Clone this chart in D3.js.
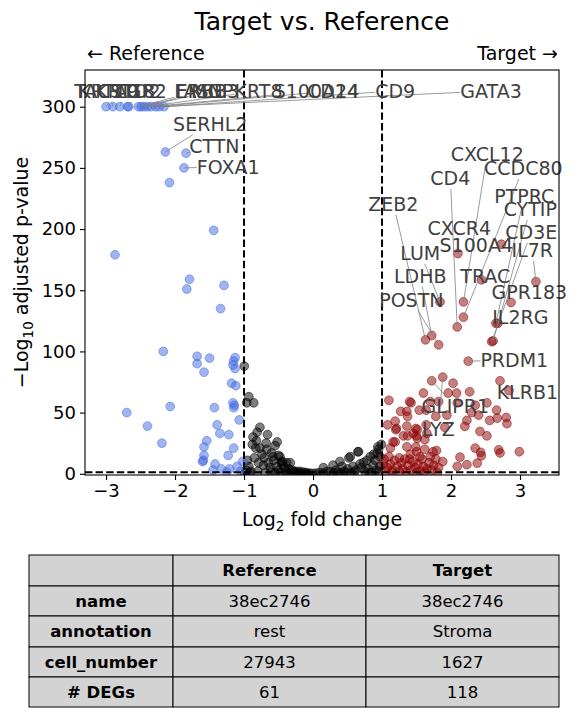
<!DOCTYPE html>
<html>
<head>
<meta charset="utf-8">
<script src="https://cdn.jsdelivr.net/npm/d3@7"></script>
<style>
body { margin: 0; background: #fff; }
text { font-family: "DejaVu Sans", sans-serif; }
</style>
</head>
<body>
<div id="chart"></div>
<script>
// genes higher in the reference group: [log2 fold change, -log10 adj p]
var refGenes = [
  [-2.67, 300], [-2.08, 238], [-1.44, 199], [-2.87, 179], [-1.79, 159], [-1.83, 151],
  [-1.29, 154], [-1.34, 135], [-2.17, 100], [-1.68, 96], [-1.50, 94.5], [-1.68, 90],
  [-1.58, 83], [-1.13, 95], [-1.15, 92], [-1.16, 89], [-1.13, 86], [-1.18, 74],
  [-1.12, 72], [-1.16, 58], [-1.14, 56], [-1.15, 54], [-1.07, 44], [-1.43, 54],
  [-2.07, 55], [-2.70, 50], [-2.40, 39], [-2.19, 25], [-1.39, 40], [-1.35, 33],
  [-1.22, 32], [-1.54, 27], [-1.58, 22], [-1.15, 21], [-1.58, 15], [-1.23, 15],
  [-1.59, 11], [-1.60, 10], [-1.42, 8], [-1.33, 4], [-1.21, 4], [-1.45, 3],
  [-1.05, 2], [-1.10, 6], [-1.25, 1.5], [-1.02, 10]
];

// genes below the fold change cut
var nsGenes = [
  [-0.996, 88], [-0.93, 63], [-0.96, 58], [-0.86, 58], [-0.77, 38], [-0.81, 34],
  [-0.87, 30], [-0.66, 32], [-0.52, 26], [-0.55, 23], [-0.83, 21], [-0.77, 21],
  [-0.67, 20], [-0.48, 14], [-0.71, 13], [-0.79, 9], [-0.93, 6], [-0.38, 9],
  [-0.62, 5], [-0.97, 3], [-0.90, 2], [-0.74, 16], [-0.60, 17], [-0.57, 11],
  [-0.45, 8], [-0.42, 5], [-0.35, 4], [-0.30, 3], [-0.25, 2], [-0.20, 2],
  [-0.15, 1.5], [-0.10, 1], [-0.05, 0.5], [0, 0.3], [-0.85, 13], [-0.72, 7],
  [-0.65, 9], [-0.53, 6], [-0.50, 3], [-0.40, 2], [-0.33, 1], [-0.28, 1.5],
  [-0.22, 0.8], [-0.18, 0.5], [-0.12, 0.4], [-0.08, 0.2], [-0.88, 24], [-0.82, 27],
  [-0.95, 11], [-0.68, 25], [-0.58, 14], [-0.46, 10], [-0.99, 0.5], [-0.92, 1],
  [-0.80, 2], [-0.69, 1], [-0.61, 1.5], [-0.55, 0.8], [-0.47, 1], [-0.38, 0.6],
  [-0.50, 15], [-0.33, 9], [-0.44, 10],
  [0.65, 18], [0.52, 13], [0.94, 22], [0.99, 24], [0.78, 11], [0.93, 17],
  [0.95, 20], [0.83, 14], [0.90, 11], [0.66, 18], [0.54, 14], [0.39, 10],
  [0.29, 7], [0.15, 5], [0.42, 6], [0.58, 6], [0.73, 9], [0.10, 1],
  [0.20, 2], [0.25, 1.5], [0.33, 3], [0.45, 2], [0.50, 4], [0.62, 3],
  [0.70, 5], [0.80, 4], [0.87, 7], [0.92, 3], [0.97, 6], [0.05, 0.5],
  [0.35, 1], [0.48, 1], [0.60, 1.5], [0.75, 2], [0.85, 1], [0.95, 1.5],
  [0.68, 8], [0.88, 16], [0.97, 14], [0.30, 0.5], [0.15, 0.3], [0.40, 0.8],
  [0.55, 0.7], [0.82, 0.9]
];

// genes higher in the target group
var tgtGenes = [
  [2.71, 76], [2.03, 74], [1.10, 60], [1.42, 58], [1.40, 59], [1.60, 66],
  [1.96, 66], [2.08, 66], [2.27, 67], [1.36, 51], [1.37, 47], [1.19, 43],
  [1.08, 40], [1.21, 37], [1.54, 52], [1.64, 52], [1.78, 47], [1.94, 48],
  [1.82, 59], [2.09, 58], [2.35, 56], [2.30, 50], [2.40, 48], [2.52, 58],
  [2.66, 52], [2.67, 45.5], [2.80, 46], [2.81, 41], [2.56, 43.6], [2.23, 43.6],
  [2.20, 38.7], [1.91, 38], [1.36, 39], [1.37, 31], [1.31, 31], [1.49, 37],
  [1.50, 31], [1.64, 40], [1.65, 33], [2.42, 34.6], [2.52, 31], [1.16, 26],
  [1.36, 22], [1.49, 22], [1.79, 19], [2.35, 21], [2.43, 17.5], [2.44, 14.7],
  [2.69, 19.6], [2.71, 17], [2.99, 18], [2.13, 13.6], [2.23, 7.4], [2.09, 6],
  [2.38, 8.7], [1.70, 59], [1.27, 51], [1.20, 36], [1.51, 36], [1.45, 33],
  [1.62, 28], [1.51, 29], [1.19, 26], [1.12, 21], [1.41, 16], [1.50, 18],
  [1.62, 20], [1.74, 18],
  [1.05, 2], [1.08, 5], [1.12, 8], [1.15, 3], [1.18, 11], [1.22, 6],
  [1.25, 2], [1.28, 9], [1.30, 4], [1.33, 12], [1.38, 7], [1.42, 3],
  [1.45, 10], [1.48, 5], [1.52, 8], [1.55, 2], [1.58, 12], [1.60, 6],
  [1.65, 4], [1.68, 9], [1.72, 3], [1.75, 7], [1.78, 12], [1.82, 5],
  [1.88, 10], [1.03, 12], [1.10, 14], [1.25, 13], [1.40, 12], [1.55, 14],
  [1.70, 14], [1.02, 8], [1.15, 1], [1.35, 1.5], [1.50, 1], [1.62, 1.5], [1.80, 1]
];

// labelled genes, their values and where the label text sits (data units)
var labelGenes = ["TACSTD2", "KRT19", "KRT18", "AGR2", "FASN", "ERBB3", "MGP", "KRT8",
  "S100A14", "CD24", "CD9", "GATA3", "SERHL2", "CTTN", "FOXA1",
  "CXCL12", "CCDC80", "CD4", "PTPRC", "ZEB2", "CYTIP", "CXCR4", "CD3E", "S100A4", "IL7R",
  "LUM", "TRAC", "LDHB", "GPR183", "POSTN", "IL2RG", "PRDM1", "KLRB1", "GLIPR1", "LYZ"];
var labelLfc = [-3.0, -2.9, -2.8, -2.69, -2.53, -2.49, -2.45, -2.40,
  -2.35, -2.28, -2.16, -2.23, -2.14, -1.84, -1.87,
  2.18, 2.18, 2.09, 2.65, 1.63, 2.61, 2.10, 2.59, 2.73, 3.23,
  1.84, 2.44, 1.72, 2.87, 1.82, 2.68, 2.25, 2.84, 1.72, 1.88];
var labelNlp = [300, 300, 300, 300, 300, 300, 300, 300,
  300, 300, 300, 300, 263, 262, 250,
  140.5, 128, 120, 123, 109.5, 108.6, 180, 108, 187.6, 157,
  140.5, 158.5, 113, 140, 105.4, 123, 92, 68, 76, 79];
var labelTextX = [-2.836, -2.967, -2.72, -2.50, -1.66, -1.53, -1.46, -0.79,
  0.05, 0.29, 1.19, 2.58, -1.49, -1.43, -1.23,
  2.526, 3.048, 1.99, 3.062, 1.163, 3.149, 2.12, 3.164, 2.366, 3.178,
  1.555, 2.497, 1.555, 3.135, 1.425, 3.004, 2.917, 3.106, 2.062, 1.816];
var labelTextY = [312.8, 312.8, 312.8, 312.8, 312.8, 312.8, 312.8, 312.8,
  312.8, 312.8, 312.8, 312.8, 285.9, 267.9, 250.7,
  261.4, 249.9, 241.7, 227.0, 220.5, 216.4, 200.9, 197.6, 187.0, 183.0,
  180.5, 161.7, 161.7, 148.7, 142.2, 128.3, 93.1, 66.9, 55.4, 36.6];

var xTicks = [-3, -2, -1, 0, 1, 2, 3];
var yTicks = [0, 50, 100, 150, 200, 250, 300];
var lfcCut = 1, pCut = -Math.log10(0.05);

// info table
var tableCols = ["", "Reference", "Target"];
var tableRows = ["name", "annotation", "cell_number", "# DEGs"];
var refInfo = ["38ec2746", "rest", "27943", "61"];
var tgtInfo = ["38ec2746", "Stroma", "1627", "118"];

var width = 578, height = 717,
    pLeft = 85, pRight = 559, pTop = 70, pBottom = 475;

var svg = d3.select("#chart").append("svg")
    .attr("width", width)
    .attr("height", height);

var x = d3.scaleLinear().domain([-3.305, 3.565]).range([pLeft, pRight]),
    y = d3.scaleLinear().domain([-1, 330]).range([pBottom, pTop]);

svg.append("clipPath").attr("id", "clip")
    .append("rect")
    .attr("x", pLeft).attr("y", pTop)
    .attr("width", pRight - pLeft).attr("height", pBottom - pTop);

var plot = svg.append("g").attr("clip-path", "url(#clip)");

function colorOf(lfc) {
    if (lfc <= -lfcCut) return "royalblue";
    if (lfc >= lfcCut) return "darkred";
    return "black";
}

function drawPoints(data, color) {
    plot.append("g").selectAll("circle")
        .data(data)
        .enter().append("circle")
        .attr("cx", function(d) { return x(d[0]); })
        .attr("cy", function(d) { return y(d[1]); })
        .attr("r", 4.4)
        .style("fill", color)
        .style("fill-opacity", 0.5)
        .style("stroke", color)
        .style("stroke-opacity", 0.5)
        .style("stroke-width", 1);
}

drawPoints(nsGenes, "black");
drawPoints(refGenes, "royalblue");
drawPoints(tgtGenes, "darkred");

var labelled = labelGenes.map(function(g, i) {
    return {gene: g, lfc: labelLfc[i], nlp: labelNlp[i], tx: labelTextX[i], ty: labelTextY[i]};
});

plot.append("g").selectAll("circle")
    .data(labelled)
    .enter().append("circle")
    .attr("cx", function(d) { return x(d.lfc); })
    .attr("cy", function(d) { return y(d.nlp); })
    .attr("r", 4.4)
    .style("fill", function(d) { return colorOf(d.lfc); })
    .style("fill-opacity", 0.5)
    .style("stroke", function(d) { return colorOf(d.lfc); })
    .style("stroke-opacity", 0.5)
    .style("stroke-width", 1);

// threshold lines
var dash = "7.4,3.2";
[-lfcCut, lfcCut].forEach(function(v) {
    plot.append("line")
        .attr("x1", x(v)).attr("x2", x(v))
        .attr("y1", pTop).attr("y2", pBottom)
        .style("stroke", "black").style("stroke-width", 2)
        .style("stroke-dasharray", dash);
});
plot.append("line")
    .attr("x1", pLeft).attr("x2", pRight)
    .attr("y1", y(pCut)).attr("y2", y(pCut))
    .style("stroke", "black").style("stroke-width", 2)
    .style("stroke-dasharray", dash);

// gene labels with leader lines
var leaderG = svg.append("g");
var labelG = svg.append("g");
labelled.forEach(function(d) {
    var t = labelG.append("text")
        .attr("x", x(d.tx))
        .attr("y", y(d.ty))
        .attr("dy", "0.36em")
        .attr("text-anchor", "middle")
        .style("font-size", "19px")
        .style("fill", "#404040")
        .text(d.gene);
    var b = t.node().getBBox();
    var cx = b.x + b.width / 2, cy = b.y + b.height / 2;
    var px = x(d.lfc), py = y(d.nlp);
    var dx = px - cx, dy = py - cy;
    var s = Math.min(dx === 0 ? Infinity : (b.width / 2) / Math.abs(dx),
                     dy === 0 ? Infinity : (b.height / 2) / Math.abs(dy));
    if (s < 1) {
        leaderG.append("line")
            .attr("x1", cx + dx * s).attr("y1", cy + dy * s)
            .attr("x2", px).attr("y2", py)
            .style("stroke", "grey")
            .style("stroke-width", 0.8);
    }
});

// axes
var xAxis = svg.append("g")
    .attr("transform", "translate(0," + pBottom + ")")
    .call(d3.axisBottom(x).tickValues(xTicks).tickFormat(d3.format("d")).tickSize(5).tickPadding(4));
var yAxis = svg.append("g")
    .attr("transform", "translate(" + pLeft + ",0)")
    .call(d3.axisLeft(y).tickValues(yTicks).tickFormat(d3.format("d")).tickSize(5).tickPadding(4));
[xAxis, yAxis].forEach(function(a) {
    a.select(".domain").remove();
    a.selectAll(".tick line").style("stroke", "black").style("stroke-width", 1.1);
    a.selectAll(".tick text")
        .style("font-family", "DejaVu Sans")
        .style("font-size", "18px")
        .style("fill", "black");
});

svg.append("rect")
    .attr("x", pLeft).attr("y", pTop)
    .attr("width", pRight - pLeft).attr("height", pBottom - pTop)
    .style("fill", "none").style("stroke", "black").style("stroke-width", 1.1);

// titles
svg.append("text")
    .attr("x", (pLeft + pRight) / 2).attr("y", 30)
    .attr("text-anchor", "middle")
    .style("font-size", "25px")
    .text("Target vs. Reference");

svg.append("text")
    .attr("x", 87).attr("y", 60)
    .style("font-size", "19px")
    .text("\u2190 Reference");
svg.append("text")
    .attr("x", 558).attr("y", 60)
    .attr("text-anchor", "end")
    .style("font-size", "19px")
    .text("Target \u2192");

var xl = svg.append("text")
    .attr("x", (pLeft + pRight) / 2).attr("y", 526)
    .attr("text-anchor", "middle")
    .style("font-size", "19px");
xl.append("tspan").text("Log");
xl.append("tspan").attr("dy", 5).style("font-size", "13.5px").text("2");
xl.append("tspan").attr("dy", -5).text(" fold change");

var yl = svg.append("text")
    .attr("transform", "translate(28," + (pTop + pBottom) / 2 + ") rotate(-90)")
    .attr("text-anchor", "middle")
    .style("font-size", "19px");
yl.append("tspan").text("\u2212Log");
yl.append("tspan").attr("dy", 5).style("font-size", "13.5px").text("10");
yl.append("tspan").attr("dy", -5).text(" adjusted p-value");

// table
var colX = [29, 173, 366, 559],
    rowY = [555, 586, 616, 647, 677, 707];
var cells = [];
tableCols.forEach(function(c, j) { cells.push({r: 0, c: j, text: c, bold: true}); });
tableRows.forEach(function(name, i) {
    cells.push({r: i + 1, c: 0, text: name, bold: true});
    cells.push({r: i + 1, c: 1, text: refInfo[i], bold: false});
    cells.push({r: i + 1, c: 2, text: tgtInfo[i], bold: false});
});
var table = svg.append("g");
table.selectAll("rect")
    .data(cells)
    .enter().append("rect")
    .attr("x", function(d) { return colX[d.c]; })
    .attr("y", function(d) { return rowY[d.r]; })
    .attr("width", function(d) { return colX[d.c + 1] - colX[d.c]; })
    .attr("height", function(d) { return rowY[d.r + 1] - rowY[d.r]; })
    .style("fill", "lightgrey")
    .style("stroke", "black")
    .style("stroke-width", 1);
table.selectAll("text")
    .data(cells)
    .enter().append("text")
    .attr("x", function(d) { return (colX[d.c] + colX[d.c + 1]) / 2; })
    .attr("y", function(d) { return (rowY[d.r] + rowY[d.r + 1]) / 2; })
    .attr("dy", "0.36em")
    .attr("text-anchor", "middle")
    .style("font-size", "16.5px")
    .style("font-weight", function(d) { return d.bold ? "bold" : "normal"; })
    .text(function(d) { return d.text; });
</script>
</body>
</html>
